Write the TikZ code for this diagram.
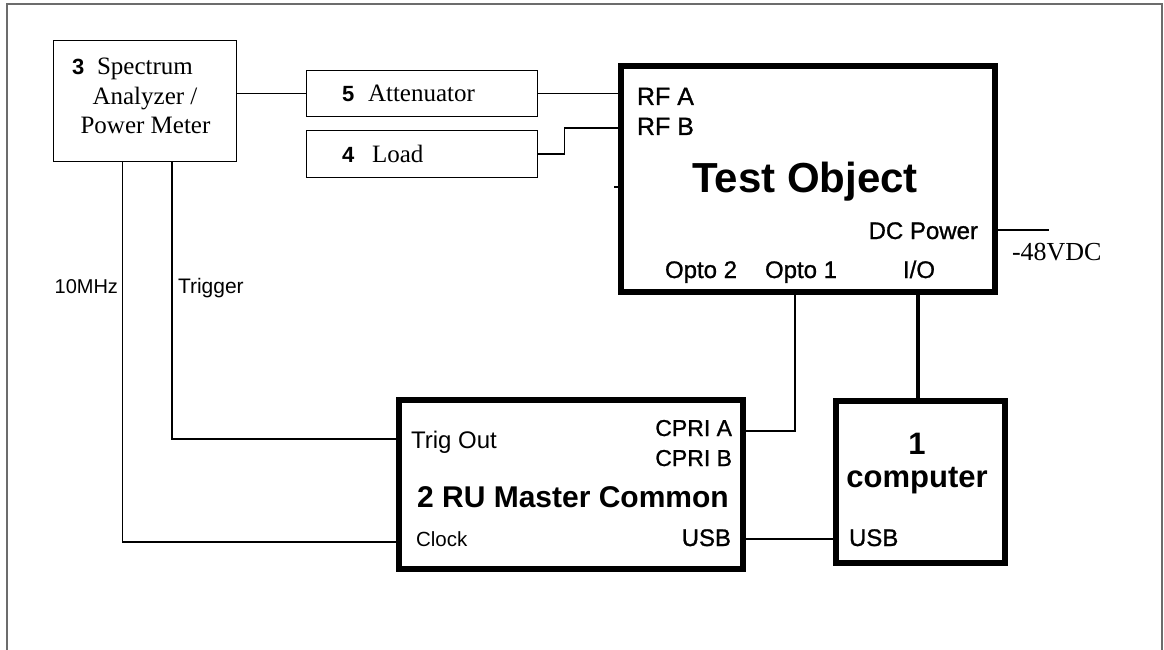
\documentclass[tikz,border=0pt]{standalone}
\usepackage{fontspec}
\setmainfont{Liberation Serif}
\setsansfont{Liberation Sans}
\newfontfamily\heavysans[FakeBold=1.0]{Liberation Sans}
\newcommand\pxsize[1]{\fontsize{#1}{#1}\selectfont}
\tikzset{
  thinbox/.style={draw, line width=1.6pt, inner sep=0pt, outer sep=0.8pt},
  thickbox/.style={draw, line width=5.5pt, inner sep=0pt, outer sep=2.75pt},
  wire/.style={line width=1.5pt},
  busline/.style={line width=3.5pt},
  txt/.style={inner sep=0pt, outer sep=0pt},
  serif/.style={txt, font=\rmfamily\pxsize{25}},
  sans/.style={txt, font=\sffamily\pxsize{#1}},
  port/.style={txt, font=\heavysans\pxsize{#1}},
  title/.style={txt, font=\sffamily\bfseries\pxsize{#1}},
}
\begin{document}
\begin{tikzpicture}[x=1pt, y=-1pt]
  \useasboundingbox (0,0) rectangle (1164,650);
  % outer frame, open at the bottom
  \draw[line width=2.2pt, gray!85!black] (7,650) -- (7,4) -- (1162,4) -- (1162,650);

  % boxes
  \node[thinbox, minimum width=183pt, minimum height=121pt] (sa) at (145,101) {};
  \node[thinbox, minimum width=231pt, minimum height=46pt] (att) at (422,93.5) {};
  \node[thinbox, minimum width=231pt, minimum height=47pt] (load) at (422,154) {};
  \node[thickbox, minimum width=374pt, minimum height=226pt] (to) at (808,179) {};
  \node[thickbox, minimum width=344pt, minimum height=169pt] (ru) at (571,484.5) {};
  \node[thickbox, minimum width=169pt, minimum height=162pt] (pc) at (920.5,482) {};

  % spectrum analyser text
  \node[title=22, anchor=base west] (sa3) at (72,75) {3};
  \node[serif, anchor=base west] (sa1) at (97,75) {Spectrum};
  \node[serif, anchor=base] (sa2) at (145,105) {Analyzer /};
  \node[serif, anchor=base] (sa4) at (145.5,134) {Power Meter};

  % attenuator and load
  \node[title=22, anchor=base west] (att5) at (342,102) {5};
  \node[serif, anchor=base west] (attl) at (368,102) {Attenuator};
  \node[title=22, anchor=base west] (load4) at (342,162) {4};
  \node[serif, anchor=base west] (loadl) at (372,162) {Load};

  % test object
  \node[port=25, anchor=base west] (rfa) at (637,105) {RF A};
  \node[port=25, anchor=base west] (rfb) at (637,135) {RF B};
  \node[title=42, anchor=base] (tol) at (805,192) {Test Object};
  \node[port=24, anchor=base east] (dcp) at (978,239) {DC Power};
  \node[port=24, anchor=base west] (op2) at (665,278) {Opto 2};
  \node[port=24, anchor=base west] (op1) at (765,278) {Opto 1};
  \node[port=24, anchor=base] (io) at (919,278) {I/O};
  \node[txt, anchor=base west, font=\rmfamily\pxsize{26}] (vdc) at (1012,260) {-48VDC};

  % RU master common
  \node[sans=24, anchor=base west] (trg) at (411,448) {Trig Out};
  \node[port=23, anchor=base east] (cpa) at (732,436) {CPRI A};
  \node[port=23, anchor=base east] (cpb) at (732,466) {CPRI B};
  \node[title=30, anchor=base] (rul) at (573,507) {2 RU Master Common};
  \node[sans=20.5, anchor=base west] (clk) at (416,546) {Clock};
  \node[port=24, anchor=base east] (usb1) at (731,546) {USB};

  % computer
  \node[title=31, anchor=base] (pc1) at (917,454) {1};
  \node[title=31, anchor=base] (pcl) at (917,487) {computer};
  \node[port=24, anchor=base west] (usb2) at (849,546) {USB};

  % wire labels
  \node[sans=20, anchor=base east] (mhz) at (118,293) {10MHz};
  \node[sans=21, anchor=base west] (trig) at (178,293) {Trigger};

  % free ends
  \coordinate (dcend) at (1049,230);
  \coordinate (stub) at (614,187);

  % connectors
  \draw[wire] (att.west) -- (att.west -| sa.east);
  \draw[wire] (att.east) -- (att.east -| to.west);
  \draw[wire] (load.east) -- ++(26,0) |- (to.west |- 0,128);
  \draw[wire] (sa.south -| 122.5,0) |- (ru.west |- 0,542);
  \draw[wire] (sa.south -| 172,0) |- (ru.west |- 0,439);
  \draw[wire] (ru.east |- 0,431) -| (to.south -| 795,0);
  \draw[wire] (ru.east |- 0,539) -- (pc.west |- 0,539);
  \draw[busline] (to.south -| 918,0) -- (pc.north -| 918,0);
  \draw[wire] (to.east |- dcend) -- (dcend);
  \draw[line width=1.2pt] (to.west |- stub) -- (stub);
\end{tikzpicture}
\end{document}
